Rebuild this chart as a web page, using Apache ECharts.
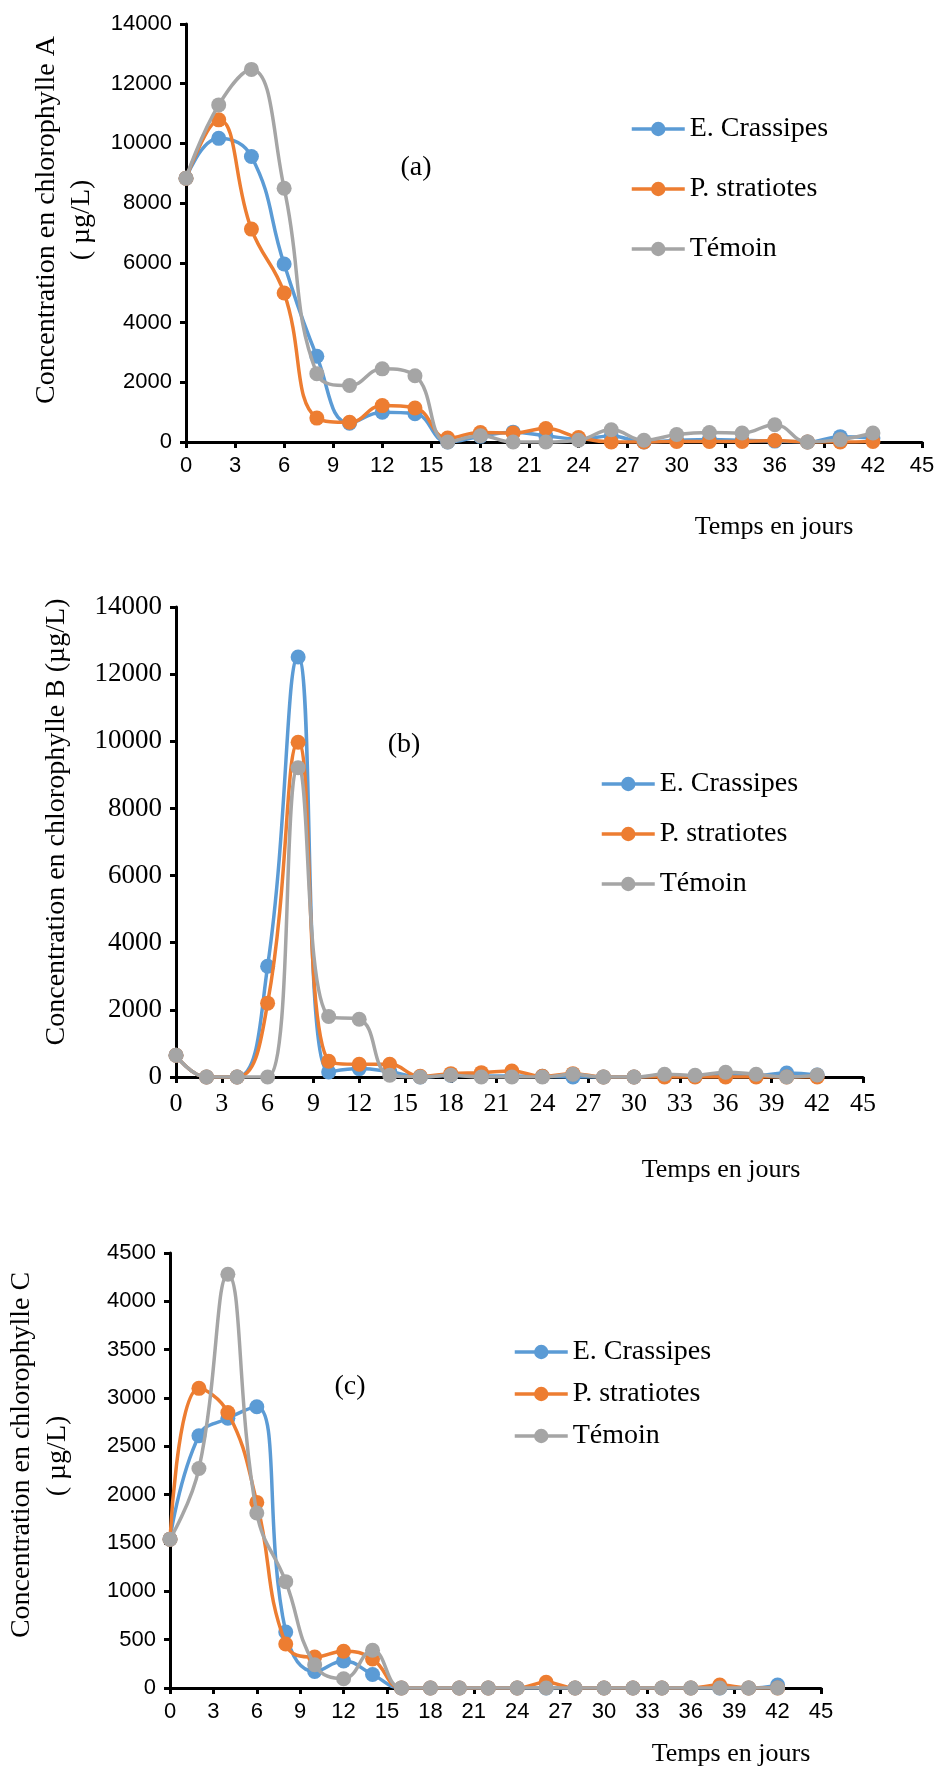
<!DOCTYPE html>
<html>
<head>
<meta charset="utf-8">
<script src="https://cdn.jsdelivr.net/npm/echarts@6/dist/echarts.min.js"></script>
<style>
html,body{margin:0;padding:0;background:#fff;}
#chart{width:938px;height:1772px;}
</style>
</head>
<body>
<div id="chart"></div>
<script>
// ---- data ----
const days = [0,2,4,6,8,10,12,14,16,18,20,22,24,26,28,30,32,34,36,38,40,42];
const seriesNames = ['E. Crassipes','P. stratiotes','Témoin'];
const xTicks = [0,3,6,9,12,15,18,21,24,27,30,33,36,39,42,45];

// Chlorophylle A
const chlA_crassipes  = [8835,10170,9560,5960,2870,630,1000,950,0,190,330,210,100,200,0,50,80,60,30,0,180,130];
const chlA_stratiotes = [8835,10790,7130,4990,800,660,1220,1140,130,320,300,450,150,0,0,20,20,20,50,0,0,20];
const chlA_temoin     = [8835,11290,12480,8500,2290,1890,2450,2220,0,210,0,0,60,410,60,250,320,300,580,0,80,300];

// Chlorophylle B
const chlB_crassipes  = [650,0,0,3300,12510,150,250,160,0,50,30,30,20,0,0,0,30,30,50,40,120,60];
const chlB_stratiotes = [650,0,0,2200,9970,470,380,380,20,100,130,180,20,100,0,0,0,0,0,0,0,0];
const chlB_temoin     = [650,0,0,0,9210,1800,1720,50,0,50,0,0,0,80,0,0,80,50,140,80,0,60];

// Chlorophylle C
const chlC_crassipes  = [1540,2610,2790,2910,580,170,280,140,0,0,0,0,0,0,0,0,0,0,0,0,0,30];
const chlC_stratiotes = [1540,3100,2850,1920,455,320,380,300,0,0,0,0,0,60,0,0,0,0,0,30,0,0];
const chlC_temoin     = [1540,2270,4280,1810,1100,240,95,390,0,0,0,0,0,0,0,0,0,0,0,0,0,0];

const colors = ['#5B9BD5','#ED7D31','#A5A5A5'];
const serif = "'Liberation Serif','Times New Roman',serif";
const sans = "'Liberation Sans',Arial,sans-serif";

function pairs(arr){ return days.map((d,i)=>[d, arr[i]]); }

function mkSeries(gi, arrs){
  return arrs.map((arr,k)=>({
    name: seriesNames[k], type:'line', xAxisIndex:gi, yAxisIndex:gi,
    data: pairs(arr), smooth: 0.45, symbol:'circle', symbolSize:15,
    lineStyle:{color:colors[k], width:3.5}, itemStyle:{color:colors[k], borderWidth:0},
    animation:false, z: 2+k
  }));
}
const plain = v => String(v);
function mkX(gi, font, size, margin){
  return {
    type:'value', gridIndex:gi, min:0, max:45, interval:3,
    axisLine:{show:true, onZero:false, lineStyle:{color:'#000', width:3}},
    axisTick:{show:true, inside:false, length:6, lineStyle:{color:'#000', width:3}},
    axisLabel:{color:'#000', fontFamily:font, fontSize:size, margin:margin, formatter:plain},
    splitLine:{show:false}
  };
}
function mkY(gi, max, interval, font, size, margin){
  return {
    type:'value', gridIndex:gi, min:0, max:max, interval:interval,
    axisLine:{show:true, lineStyle:{color:'#000', width:3}},
    axisTick:{show:true, inside:false, length:6, lineStyle:{color:'#000', width:3}},
    axisLabel:{color:'#000', fontFamily:font, fontSize:size, margin:margin, formatter:plain},
    splitLine:{show:false}
  };
}
function mkLegend(left, top, gap){
  return {
    orient:'vertical', left:left, top:top, itemGap:gap, itemWidth:53, itemHeight:18,
    data: seriesNames,
    lineStyle:{width:3.5},
    textStyle:{fontFamily:serif, fontSize:28, color:'#000', lineHeight:30}
  };
}
function txt(x, y, s, size, rot){
  return {
    type:'text', x:x, y:y, rotation: rot||0,
    style:{text:s, font: size+'px '+serif, fill:'#000',
      textAlign:'center', textVerticalAlign:'middle', align:'center', verticalAlign:'middle'}
  };
}

const option = {
  backgroundColor:'#fff',
  animation:false,
  grid:[
    {left:186, top:24, width:736, height:418},
    {left:176, top:607, width:687, height:470},
    {left:170, top:1253, width:651, height:435}
  ],
  xAxis:[ mkX(0, sans, 22, 13), mkX(1, serif, 26, 14), mkX(2, sans, 22, 13) ],
  yAxis:[ mkY(0, 14000, 2000, sans, 22, 14), mkY(1, 14000, 2000, serif, 27, 14), mkY(2, 4500, 500, sans, 22, 14) ],
  legend:[ mkLegend(625, 109, 30), mkLegend(595, 764, 20), mkLegend(508, 1332, 12) ],
  series:[].concat(
    mkSeries(0,[chlA_crassipes, chlA_stratiotes, chlA_temoin]),
    mkSeries(1,[chlB_crassipes, chlB_stratiotes, chlB_temoin]),
    mkSeries(2,[chlC_crassipes, chlC_stratiotes, chlC_temoin])
  ),
  graphic:[
    txt(47, 220, 'Concentration en chlorophylle A', 28, Math.PI/2),
    txt(82, 220, '( µg/L)', 28, Math.PI/2),
    txt(57, 822, 'Concentration en chlorophylle B (µg/L)', 28, Math.PI/2),
    txt(22, 1455, 'Concentration en chlorophylle C', 28, Math.PI/2),
    txt(58, 1456, '( µg/L)', 28, Math.PI/2),
    txt(416, 168, '(a)', 28),
    txt(404, 745, '(b)', 28),
    txt(350, 1387, '(c)', 28),
    txt(774, 527, 'Temps en jours', 26),
    txt(721, 1170, 'Temps en jours', 26),
    txt(731, 1754, 'Temps en jours', 26)
  ]
};
const chart = echarts.init(document.getElementById('chart'), null, {renderer:'canvas'});
chart.setOption(option);
</script>
</body>
</html>
